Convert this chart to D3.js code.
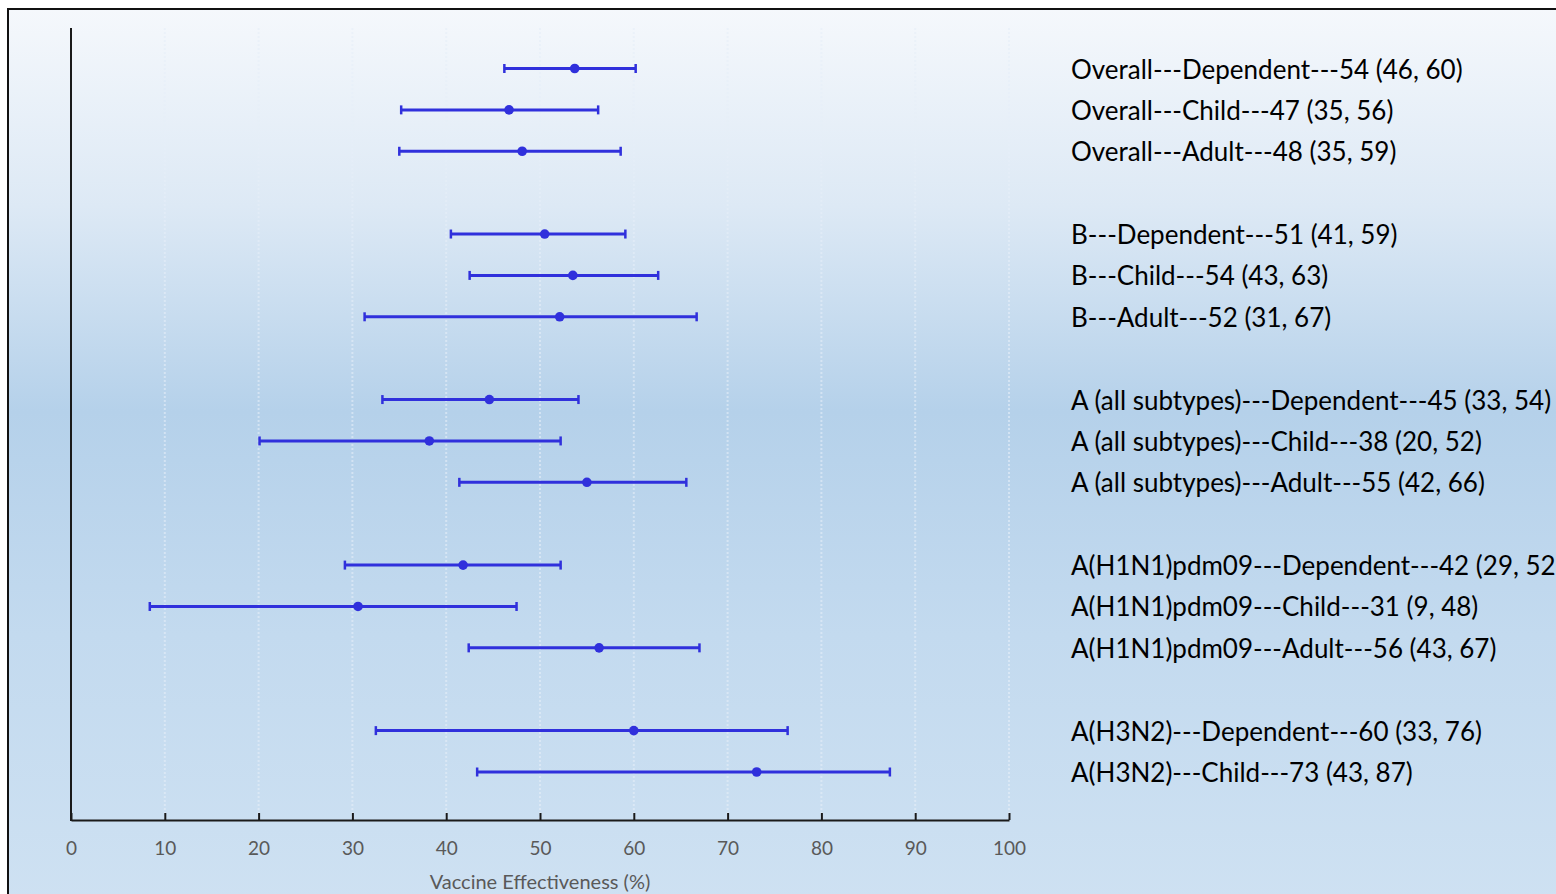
<!DOCTYPE html>
<html>
<head>
<meta charset="utf-8">
<script src="https://cdn.jsdelivr.net/npm/d3@7"></script>
<style>
  body { margin: 0; background: #ffffff; }
  text { font-family: Lato, "Open Sans", sans-serif; }
</style>
</head>
<body>
<div id="chart"></div>
<script>
// Row labels, top to bottom, and the slot each row sits in (gaps between groups)
var rowLabels = [
	"Overall---Dependent---54 (46, 60)",
	"Overall---Child---47 (35, 56)",
	"Overall---Adult---48 (35, 59)",
	"B---Dependent---51 (41, 59)",
	"B---Child---54 (43, 63)",
	"B---Adult---52 (31, 67)",
	"A (all subtypes)---Dependent---45 (33, 54)",
	"A (all subtypes)---Child---38 (20, 52)",
	"A (all subtypes)---Adult---55 (42, 66)",
	"A(H1N1)pdm09---Dependent---42 (29, 52)",
	"A(H1N1)pdm09---Child---31 (9, 48)",
	"A(H1N1)pdm09---Adult---56 (43, 67)",
	"A(H3N2)---Dependent---60 (33, 76)",
	"A(H3N2)---Child---73 (43, 87)"
];
var rowSlots = [0, 1, 2, 4, 5, 6, 8, 9, 10, 12, 13, 14, 16, 17];

// Point estimates and 95% CI bounds (read from the plotted marks)
var estimates = [53.7, 46.7, 48.1, 50.5, 53.5, 52.1, 44.6, 38.2, 55.0, 41.8, 30.6, 56.3, 60.0, 73.1];
var lowers    = [46.2, 35.2, 35.0, 40.5, 42.5, 31.3, 33.2, 20.1, 41.4, 29.2,  8.4, 42.4, 32.5, 43.3];
var uppers    = [60.2, 56.2, 58.6, 59.1, 62.6, 66.7, 54.1, 52.2, 65.6, 52.2, 47.5, 67.0, 76.4, 87.3];

var xTicks = [0, 10, 20, 30, 40, 50, 60, 70, 80, 90, 100];
var xTitle = "Vaccine Effectiveness (%)";

var W = 1556, H = 894;
var barColor = "#3030dc";

var rows = rowLabels.map(function(l, i) {
	return {label: l, slot: rowSlots[i], est: estimates[i], lo: lowers[i], hi: uppers[i]};
});

var svg = d3.select("#chart").append("svg")
	.attr("width", W)
	.attr("height", H);

// background gradient
var defs = svg.append("defs");
var grad = defs.append("linearGradient")
	.attr("id", "bg")
	.attr("x1", 0).attr("y1", 0).attr("x2", 0).attr("y2", 1);
grad.append("stop").attr("offset", "0%").attr("stop-color", "#f5f8fc");
grad.append("stop").attr("offset", "22%").attr("stop-color", "#dde9f5");
grad.append("stop").attr("offset", "45%").attr("stop-color", "#b5d1ea");
grad.append("stop").attr("offset", "70%").attr("stop-color", "#c3daef");
grad.append("stop").attr("offset", "100%").attr("stop-color", "#cee1f2");

svg.append("rect")
	.attr("x", 8).attr("y", 9)
	.attr("width", W).attr("height", H)
	.attr("fill", "url(#bg)")
	.attr("stroke", "#111")
	.attr("stroke-width", 2);

// scales
var x = d3.scaleLinear().domain([0, 100]).range([71, 1009]);
var y = d3.scaleLinear().domain([0, 17]).range([68.5, 772]);
var plotTop = 28, plotBottom = 820;

// dotted gridlines
svg.append("g").selectAll("line")
	.data(xTicks.slice(1))
	.enter().append("line")
	.attr("x1", function(d) { return x(d); })
	.attr("x2", function(d) { return x(d); })
	.attr("y1", plotTop)
	.attr("y2", plotBottom)
	.attr("stroke", "#e6eef8")
	.attr("stroke-opacity", 0.6)
	.attr("stroke-width", 2)
	.attr("stroke-dasharray", "2,2");

// x axis (ticks pointing inward)
var xAxis = d3.axisBottom(x)
	.tickValues(xTicks)
	.tickSizeInner(-7)
	.tickSizeOuter(0)
	.tickPadding(22);

var gx = svg.append("g")
	.attr("transform", "translate(0," + plotBottom + ")")
	.call(xAxis);
gx.select(".domain").attr("stroke", "#1a1a1a").attr("stroke-width", 2);
gx.selectAll(".tick line").attr("stroke", "#1a1a1a").attr("stroke-width", 2);
gx.selectAll(".tick text")
	.attr("fill", "#595959")
	.style("font-size", "19px")
	.style("font-family", "Lato, sans-serif");

// y axis line
svg.append("line")
	.attr("x1", x(0)).attr("x2", x(0))
	.attr("y1", plotTop).attr("y2", plotBottom + 1)
	.attr("stroke", "#1a1a1a")
	.attr("stroke-width", 2);

// axis title
svg.append("text")
	.attr("x", 540)
	.attr("y", 889)
	.attr("text-anchor", "middle")
	.attr("fill", "#595959")
	.style("font-size", "20px")
	.text(xTitle);

// error bars
var bars = svg.append("g").selectAll("g")
	.data(rows)
	.enter().append("g");

bars.append("line")
	.attr("x1", function(d) { return x(d.lo); })
	.attr("x2", function(d) { return x(d.hi); })
	.attr("y1", function(d) { return y(d.slot); })
	.attr("y2", function(d) { return y(d.slot); })
	.attr("stroke", barColor)
	.attr("stroke-width", 3);

bars.append("line")
	.attr("x1", function(d) { return x(d.lo); })
	.attr("x2", function(d) { return x(d.lo); })
	.attr("y1", function(d) { return y(d.slot) - 4.5; })
	.attr("y2", function(d) { return y(d.slot) + 4.5; })
	.attr("stroke", barColor)
	.attr("stroke-width", 2.5);

bars.append("line")
	.attr("x1", function(d) { return x(d.hi); })
	.attr("x2", function(d) { return x(d.hi); })
	.attr("y1", function(d) { return y(d.slot) - 4.5; })
	.attr("y2", function(d) { return y(d.slot) + 4.5; })
	.attr("stroke", barColor)
	.attr("stroke-width", 2.5);

bars.append("circle")
	.attr("cx", function(d) { return x(d.est); })
	.attr("cy", function(d) { return y(d.slot); })
	.attr("r", 4.8)
	.attr("fill", barColor);

// row labels on the right
svg.append("g").selectAll("text")
	.data(rows)
	.enter().append("text")
	.attr("x", 1071)
	.attr("y", function(d) { return y(d.slot) + 10; })
	.attr("fill", "#000")
	.style("font-size", "26px")
	.text(function(d) { return d.label; });
</script>
</body>
</html>
